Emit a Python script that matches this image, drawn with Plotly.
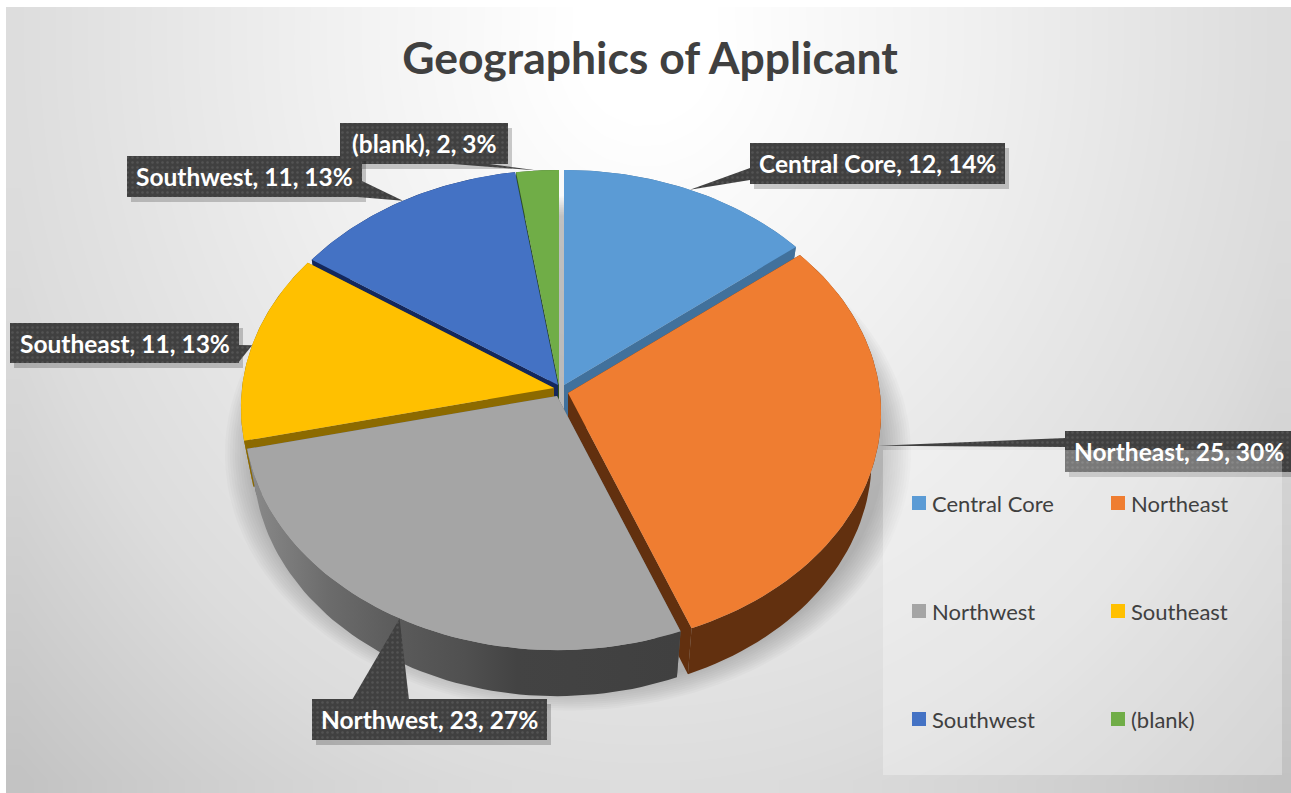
import math
import plotly.graph_objects as go

# ---- data ----
categories = ["Central Core", "Northeast", "Northwest", "Southeast", "Southwest", "(blank)"]
values = [12, 25, 23, 11, 11, 2]
percents = [14, 30, 27, 13, 13, 3]
top_colors = ["#5B9BD5", "#EF7D31", "#A5A5A5", "#FFC000", "#4472C4", "#70AD47"]
wall_colors = ["#41719C", "#62300F", "#606060", "#8C6A00", "#14285C", "#2F5222"]
# exploded centre of each slice, in picture pixels
slice_cx = [564, 568, 557, 554, 558, 559]
slice_cy = [385, 393, 396, 388, 385, 385]
draw_order = [0, 5, 4, 3, 1, 2]
# label boxes: left, right, top, bottom, and leader-line base points
label_boxes = [(750, 1005, 143, 184), (1065, 1295, 431, 472), (312, 547, 699, 740),
               (10, 239, 323, 363), (127, 362, 156, 197), (340, 508, 123, 164)]
leader_bases = [((750, 168), (750, 180)), ((1066, 438), (1066, 447)), ((352, 700), (409, 700)),
                ((238, 345), (238, 363)), ((362, 181), (345, 196)), ((440, 163), (482, 163))]
leader_fractions = [0.5, 0.48, 0.5, 0.5, 0.5, 0.5]
legend_x = [919, 1118, 919, 1118, 919, 1118]
legend_y = [503, 503, 611, 611, 719, 719]

RX, RY, K, DEPTH, BOTTOM_SCALE = 312, 233, 0.0835, 46, 0.97
W, H = 1291, 793


def pt(i, theta, level=0.0):
    u, v = math.sin(theta), math.cos(theta)
    s = 1 / (1 + K * v)
    f = 1 - (1 - BOTTOM_SCALE) * level
    return slice_cx[i] + RX * u * s * f, slice_cy[i] - RY * v * s + DEPTH * level


def arc(i, a, b, level=0.0, n=60):
    return [pt(i, a + (b - a) * j / n, level) for j in range(n + 1)]


def poly(points, color=None, **kw):
    xs = [p[0] for p in points] + [points[0][0]]
    ys = [p[1] for p in points] + [points[0][1]]
    return go.Scatter(x=xs, y=ys, mode="lines", fill="toself", line=dict(width=0),
                      fillcolor=color, hoverinfo="skip", showlegend=False, **kw)


fig = go.Figure()

# background gradient (decor, not data)
nx, ny = 44, 30
gx = [6 + (W - 6) * i / nx for i in range(nx + 1)]
gy = [7 + (H - 7) * j / ny for j in range(ny + 1)]
gz = []
for j in range(ny):
    row = []
    for i in range(nx):
        xc, yc = (gx[i] + gx[i + 1]) / 2, (gy[j] + gy[j + 1]) / 2
        row.append(math.hypot((xc - 645) / 645, (yc - 40) / 750))
    gz.append(row)
fig.add_trace(go.Heatmap(x=gx, y=gy, z=gz, zmin=0, zmax=1.45, zsmooth="best", showscale=False,
                         hoverinfo="skip",
                         colorscale=[[0, "#ffffff"], [0.07, "#ffffff"], [0.35, "#f0f0f0"],
                                     [0.69, "#dcdcdc"], [1, "#bebebe"]]))

# soft shadow under the pie
for k in range(12):
    grow = 1 + 0.008 * (12 - k)
    pts = []
    for j in range(181):
        t = 2 * math.pi * j / 180
        u, v = math.sin(t), math.cos(t)
        s = 1 / (1 + K * v)
        x = 568 + RX * grow * u * s
        y = 432 - RY * grow * v * s
        pts.append((x, min(y, 712)))
    fig.add_trace(poly(pts, "rgba(0,0,0,0.019)"))

# slices
total = sum(values)
starts = []
acc = 0
for v in values:
    starts.append(acc / total * 2 * math.pi)
    acc += v
for i in draw_order:
    a = starts[i]
    b = a + values[i] / total * 2 * math.pi
    apex_top, apex_bot = (slice_cx[i], slice_cy[i]), (slice_cx[i], slice_cy[i] + DEPTH)
    fig.add_trace(poly([apex_top, pt(i, a), pt(i, a, 1), apex_bot], wall_colors[i]))
    fig.add_trace(poly([apex_top, pt(i, b), pt(i, b, 1), apex_bot], wall_colors[i]))
    wall = arc(i, a, b) + arc(i, a, b, 1)[::-1]
    if categories[i] == "Northwest":
        fig.add_trace(poly(wall, wall_colors[i], fillgradient=dict(
            type="horizontal", start=250, stop=680,
            colorscale=[[0, "#8a8a8a"], [0.18, "#6c6c6c"], [0.35, "#5a5a5a"],
                        [0.5, "#505050"], [0.62, "#434343"], [1, "#404040"]])))
    else:
        fig.add_trace(poly(wall, wall_colors[i]))
    fig.add_trace(poly([apex_top] + arc(i, a, b), top_colors[i]))

# data label boxes and leaders
pattern = dict(shape=".", size=5, solidity=0.2, fgcolor="#666666", bgcolor="#404040")
for i in [2, 1, 0, 5, 4, 3]:
    l, r, t, b = label_boxes[i]
    rect = [(l, t), (r, t), (r, b), (l, b)]
    fig.add_trace(poly([(x + 4, y + 5) for x, y in rect], "rgba(0,0,0,0.2)"))
    tip_angle = starts[i] + values[i] / total * 2 * math.pi * leader_fractions[i]
    fig.add_trace(poly([leader_bases[i][0], pt(i, tip_angle), leader_bases[i][1]], "#404040",
                       fillpattern=pattern))
    fig.add_trace(poly(rect, "#404040", fillpattern=pattern))

# legend panel, then legend marks
fig.add_trace(poly([(883, 450), (1282, 450), (1282, 775), (883, 775)], "rgba(255,255,255,0.3)"))
for i, name in enumerate(categories):
    fig.add_trace(go.Scatter(x=[legend_x[i]], y=[legend_y[i]], mode="markers", name=name,
                             marker=dict(symbol="square", size=14, color=top_colors[i]),
                             hoverinfo="skip", showlegend=False))
    fig.add_annotation(x=legend_x[i] + 11, y=legend_y[i], text=name, showarrow=False, xanchor="left",
                       yanchor="middle", font=dict(family="Lato", size=22, color="#404040"))
    l, r, t, b = label_boxes[i]
    cxt = {1: 1179}.get(i, (l + r) / 2)
    fig.add_annotation(x=cxt, y=(t + b) / 2, text=f"{name}, {values[i]}, {percents[i]}%", showarrow=False,
                       xanchor="center", yanchor="middle",
                       font=dict(family="Lato", size=24.5, color="#ffffff", weight="bold"))

fig.update_layout(
    width=W, height=H, margin=dict(l=0, r=0, t=0, b=0),
    paper_bgcolor="#ffffff", plot_bgcolor="rgba(0,0,0,0)", showlegend=False,
    title=dict(text="<b>Geographics of Applicant</b>", x=650 / W, y=1 - 58 / H, xanchor="center",
               yanchor="middle", font=dict(family="Lato", size=44.5, color="#404040")),
    xaxis=dict(range=[0, W], visible=False, fixedrange=True),
    yaxis=dict(range=[H, 0], visible=False, fixedrange=True),
)
fig.write_html("out.html", config=dict(displayModeBar=False),
               post_script="document.body.style.margin='0';document.documentElement.style.overflow='hidden';")
